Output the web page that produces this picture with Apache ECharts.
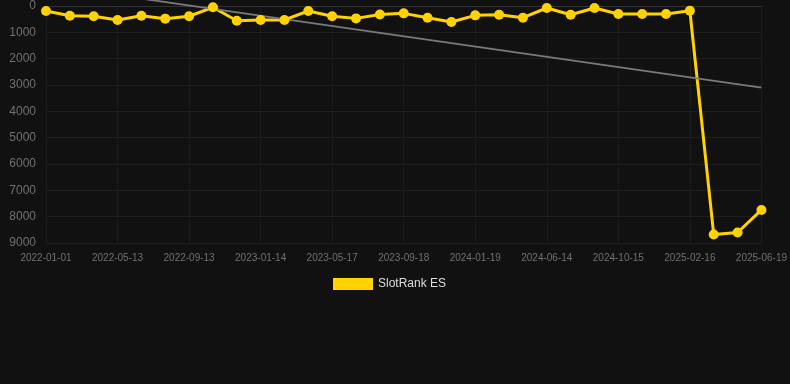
<!DOCTYPE html>
<html><head><meta charset="utf-8">
<script src="https://cdn.jsdelivr.net/npm/echarts@6/dist/echarts.min.js"></script>
<style>html,body{margin:0;padding:0;background:#111111;}#c{width:790px;height:384px;}</style>
</head><body><div id="c"></div>
<script>
var categories = ['2022-01-01','2022-02-14','2022-03-30','2022-05-13','2022-06-23','2022-08-03','2022-09-13','2022-10-24','2022-12-04','2023-01-14','2023-02-24','2023-04-06','2023-05-17','2023-06-27','2023-08-08','2023-09-18','2023-10-29','2023-12-09','2024-01-19','2024-03-07','2024-04-26','2024-06-14','2024-07-25','2024-09-04','2024-10-15','2024-11-25','2025-01-05','2025-02-16','2025-03-29','2025-05-09','2025-06-19'];
var rankValues = [190,370,390,530,370,480,390,50,560,530,530,190,390,470,320,280,445,610,355,330,445,76,330,76,305,305,305,180,8680,8600,7745];
var trendStart = -800;
var trendEnd = 3100;
var seriesName = 'SlotRank ES';

var chart = echarts.init(document.getElementById('c'));
chart.setOption({
  backgroundColor: '#111111',
  animation: false,
  grid: {left: 46, right: 28, top: 6, bottom: 141},
  legend: {
    data: [seriesName], top: 273, left: 328,
    itemWidth: 40, itemHeight: 12, icon: 'rect',
    textStyle: {color: '#dddddd', fontSize: 12, fontFamily: 'Liberation Sans, Arial, sans-serif'}
  },
  xAxis: {
    type: 'category', data: categories, boundaryGap: false,
    axisLine: {lineStyle: {color: '#333333'}},
    axisTick: {show: false},
    axisLabel: {interval: 2, color: '#707070', fontSize: 10, margin: 10, fontFamily: 'Liberation Sans, Arial, sans-serif'},
    splitLine: {show: true, interval: 2, lineStyle: {color: '#1c1c1c'}}
  },
  yAxis: {
    type: 'value', inverse: true, min: 0, max: 9000, interval: 1000,
    axisLine: {show: false}, axisTick: {show: false},
    axisLabel: {color: '#707070', fontSize: 12, margin: 10, fontFamily: 'Liberation Sans, Arial, sans-serif',
      formatter: function (v) { return String(v); }},
    splitLine: {lineStyle: {color: '#1e1e1e'}}
  },
  series: [
    {
      name: seriesName, type: 'line', data: rankValues,
      symbol: 'circle', symbolSize: 10,
      itemStyle: {color: '#ffd200'},
      lineStyle: {color: '#ffd200', width: 3}
    },
    {
      name: 'trend', type: 'line', clip: false,
      data: [[categories[0], trendStart], [categories[categories.length - 1], trendEnd]],
      symbol: 'none', silent: true,
      lineStyle: {color: '#7a7a7a', width: 1.8}
    }
  ]
});
</script></body></html>
